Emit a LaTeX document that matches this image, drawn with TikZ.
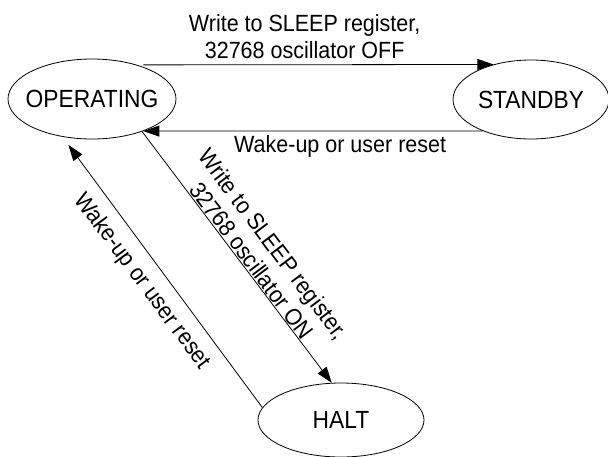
\documentclass[tikz,border=0pt]{standalone}
\usepackage{fontspec}
\usepackage{graphicx}
\setmainfont{Liberation Sans}
\usetikzlibrary{arrows.meta,shapes.geometric}
\newcommand\vst[1]{\scalebox{1}[1.09]{#1}}
\begin{document}
\begin{tikzpicture}[x=1pt,y=-1pt,
  state/.style={draw, ellipse, line width=0.8pt, inner sep=0pt, font=\fontsize{22.8}{26}\selectfont},
  arr/.style={line width=0.8pt, -{Triangle[length=16pt,width=11pt]}},
  lbl/.style={font=\fontsize{21.5}{27}\selectfont, inner sep=0pt, align=center}]
\useasboundingbox (0,0) rectangle (608,456);
\node[state, minimum width=168pt, minimum height=80pt] (op) at (92,99) {\makebox[0pt]{\vst{OPERATING}}};
\node[state, minimum width=156pt, minimum height=79pt] (st) at (531,99.5) {\makebox[0pt]{\vst{STANDBY}}};
\node[state, minimum width=166pt, minimum height=74pt] (halt) at (341,420) {\makebox[0pt]{\vst{HALT}}};
\draw[arr, shorten <=6pt] (op.37.7) -- node[lbl, pos=0.47, anchor=south, outer ysep=6pt] (l1) {\vst{Write to SLEEP register,}\\\vst{32768 oscillator OFF}} (st.137.8);
\draw[arr] (st.213.8) -- node[lbl, pos=0.42, anchor=north, outer ysep=5pt] (l2) {\vst{Wake-up or user reset}} (op.-32.4);
\draw[arr] (op.-33) -- node[lbl, pos=0.537, rotate=-53, anchor=south, outer ysep=1.5pt] (l3) {\vst{Write to SLEEP register,}\\\vst{32768 oscillator ON}} (halt.104);
\draw[arr, shorten >=10pt] (halt.171) -- node[lbl, pos=0.514, rotate=-53.4, anchor=north, outer ysep=11pt] (l4) {\vst{Wake-up or user reset}} (op.232);
\end{tikzpicture}
\end{document}
